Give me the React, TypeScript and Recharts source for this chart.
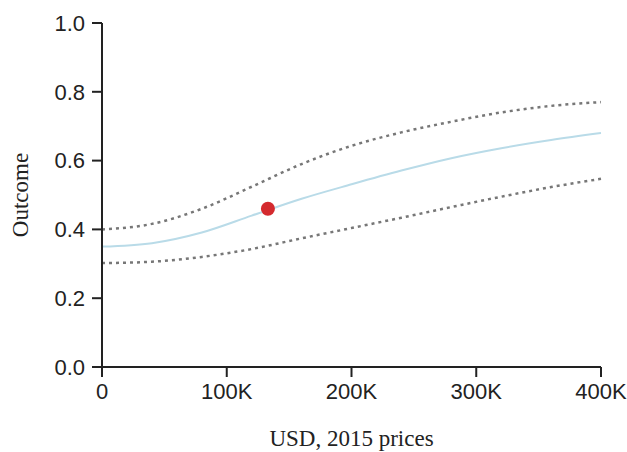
import { ComposedChart, Line, Scatter, XAxis, YAxis, Label } from 'recharts';

// income levels (USD) where the fitted curve was read
const incomes = [0, 40000, 80000, 120000, 160000, 200000, 240000, 280000, 320000, 360000, 400000];
const fitted = [0.35, 0.36, 0.391, 0.44, 0.489, 0.531, 0.571, 0.607, 0.636, 0.66, 0.68];
const upperBand = [0.4, 0.416, 0.46, 0.524, 0.59, 0.643, 0.682, 0.713, 0.74, 0.759, 0.77];
const lowerBand = [0.302, 0.306, 0.32, 0.343, 0.374, 0.404, 0.434, 0.465, 0.495, 0.523, 0.547];

const pointIncome = [133000];
const pointOutcome = [0.46];

const xTicks = [0, 100000, 200000, 300000, 400000];
const yTicks = [0, 0.2, 0.4, 0.6, 0.8, 1.0];

const AXIS = '#222';
const SANS = '"Liberation Sans", Arial, Helvetica, sans-serif';
const SERIF = '"Liberation Serif", "Times New Roman", serif';

const rows = incomes.map((x, i) => ({
  x,
  fit: fitted[i],
  hi: upperBand[i],
  lo: lowerBand[i],
}));
const point = pointIncome.map((x, i) => ({ x, y: pointOutcome[i] }));

const fmtX = (v: number) => (v === 0 ? '0' : `${v / 1000}K`);

// eslint-disable-next-line @typescript-eslint/no-explicit-any
const YTitle = ({ viewBox }: any) => {
  const cx = viewBox.x + 20;
  const cy = viewBox.y + viewBox.height / 2;
  return (
    <text
      x={cx}
      y={cy}
      transform={`rotate(-90, ${cx}, ${cy})`}
      textAnchor="middle"
      dominantBaseline="central"
      fill={AXIS}
      fontSize={23}
      fontFamily={SERIF}
    >
      Outcome
    </text>
  );
};

export default function App() {
  return (
    <div style={{ position: 'absolute', left: 0, top: 0, background: '#fff' }}>
      <ComposedChart width={627} height={452} data={rows} margin={{ top: 23, right: 26, bottom: 0, left: 0 }}>
        <XAxis
          dataKey="x"
          type="number"
          domain={[0, 400000]}
          ticks={xTicks}
          tickFormatter={fmtX}
          height={85}
          tickSize={10}
          tickMargin={6}
          axisLine={{ stroke: AXIS, strokeWidth: 2 }}
          tickLine={{ stroke: AXIS, strokeWidth: 2 }}
          tick={{ fill: AXIS, fontSize: 22, fontFamily: SANS }}
          interval={0}
        >
          <Label
            value="USD, 2015 prices"
            position="insideBottom"
            offset={6}
            fill={AXIS}
            fontSize={23}
            fontFamily={SERIF}
          />
        </XAxis>
        <YAxis
          type="number"
          domain={[0, 1]}
          ticks={yTicks}
          tickFormatter={(v: number) => v.toFixed(1)}
          width={102}
          tickSize={10}
          tickMargin={7}
          axisLine={{ stroke: AXIS, strokeWidth: 2 }}
          tickLine={{ stroke: AXIS, strokeWidth: 2 }}
          tick={{ fill: AXIS, fontSize: 22, fontFamily: SANS }}
          interval={0}
          label={<YTitle />}
        />
        <Line
          dataKey="hi"
          type="monotone"
          stroke="#777"
          strokeWidth={2.5}
          strokeDasharray="3 4"
          dot={false}
          activeDot={false}
          isAnimationActive={false}
        />
        <Line
          dataKey="lo"
          type="monotone"
          stroke="#777"
          strokeWidth={2.5}
          strokeDasharray="3 4"
          dot={false}
          activeDot={false}
          isAnimationActive={false}
        />
        <Line
          dataKey="fit"
          type="monotone"
          stroke="#b9dbe8"
          strokeWidth={2}
          dot={false}
          activeDot={false}
          isAnimationActive={false}
        />
        <Scatter
          data={point}
          dataKey="y"
          fill="#d42a2e"
          isAnimationActive={false}
          // eslint-disable-next-line @typescript-eslint/no-explicit-any
          shape={(p: any) => <circle cx={p.cx} cy={p.cy} r={7} fill="#d42a2e" />}
        />
      </ComposedChart>
    </div>
  );
}
